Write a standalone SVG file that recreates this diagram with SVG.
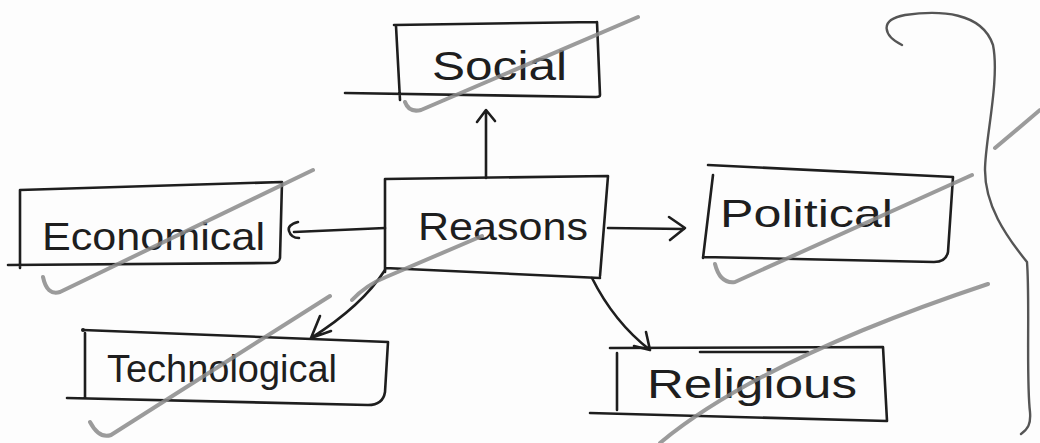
<svg xmlns="http://www.w3.org/2000/svg" width="1040" height="443" viewBox="0 0 1040 443">
<style>
.ink{fill:none;stroke:#1e1e1e;stroke-width:2.6;stroke-linecap:round;stroke-linejoin:round}
.mark{fill:none;stroke:#8a8a8a;stroke-width:4;stroke-linecap:round;stroke-linejoin:round;opacity:0.85}
.lbl{font-family:"Liberation Sans","DejaVu Sans",sans-serif;fill:#1e1e1e;font-weight:normal}
</style>
<rect width="1040" height="443" fill="#fdfdfd"/>
<g id="node-social">
<path class="ink" d="M394,25 L597,22 M597,22 L600,95 Q600,97 596,97 L345,93 M396,26 L400,100"/>
<text class="lbl" x="432" y="80" font-size="40" textLength="135" lengthAdjust="spacingAndGlyphs">Social</text>
</g>
<g id="node-reasons">
<path class="ink" d="M385,179 L608,176 L600,276 M385,268 L600,278 M385,179 L385,272"/>
<text class="lbl" x="418" y="240" font-size="39" textLength="170" lengthAdjust="spacingAndGlyphs">Reasons</text>
</g>
<g id="node-economical">
<path class="ink" d="M20,190 L282,182 L280,258 Q279,263 272,263 L8,265 M20,190 L20,268"/>
<text class="lbl" x="42" y="250" font-size="39" textLength="223" lengthAdjust="spacingAndGlyphs">Economical</text>
</g>
<g id="node-political">
<path class="ink" d="M708,165 L953,177 L948,252 Q946,262 934,262 L703,257 M713,175 L703,258"/>
<text class="lbl" x="720" y="227" font-size="39" textLength="173" lengthAdjust="spacingAndGlyphs">Political</text>
</g>
<g id="node-technological">
<path class="ink" d="M83,330 L388,342 L385,392 Q383,405 368,405 L67,398 M85,333 L85,398"/>
<circle cx="83" cy="330" r="2" fill="#1e1e1e"/>
<text class="lbl" x="107" y="382" font-size="38" textLength="230" lengthAdjust="spacingAndGlyphs">Technological</text>
</g>
<g id="node-religious">
<path class="ink" d="M610,348 L883,347 L887,421 L590,413 M617,353 L617,410 M700,352 L808,352"/>
<text class="lbl" x="647" y="398" font-size="40" textLength="210" lengthAdjust="spacingAndGlyphs">Religious</text>
</g>
<g id="connectors">
<path class="ink" d="M486,178 L486,112 M477,122 L486,110 L495,121"/>
<path class="ink" d="M608,228 L684,229 M669,217 L685,228 L670,240"/>
<path class="ink" d="M385,228 L294,232 M298,222 Q287,225 289,231 Q291,238 299,238"/>
<path class="ink" d="M385,270 Q362,306 311,338 M320,316 L311,338 L331,331"/>
<path class="ink" d="M592,278 Q614,322 650,350 M646,332 L650,350 L634,346"/>
</g>
<g id="marks">
<path class="mark" d="M405,102 Q409,113 421,110 L638,17"/>
<path class="mark" d="M352,300 Q366,285 386,277 L482,236"/>
<path class="mark" d="M43,277 Q47,296 60,292 L313,170"/>
<path class="mark" d="M715,264 Q720,284 735,282 L972,175"/>
<path class="mark" d="M90,422 Q99,439 111,435 L330,296"/>
<path class="mark" d="M660,443 Q760,360 988,284"/>
<path class="mark" d="M995,148 L1040,110"/>
<path class="ink" style="stroke:#555;stroke-width:2.4" d="M902,45 C884,36 878,20 905,15 C940,10 982,12 993,45 C1000,80 985,140 985,170 C985,205 1005,235 1027,262 C1030,300 1026,380 1030,412 C1031,424 1028,429 1021,434"/>
</g>
</svg>
